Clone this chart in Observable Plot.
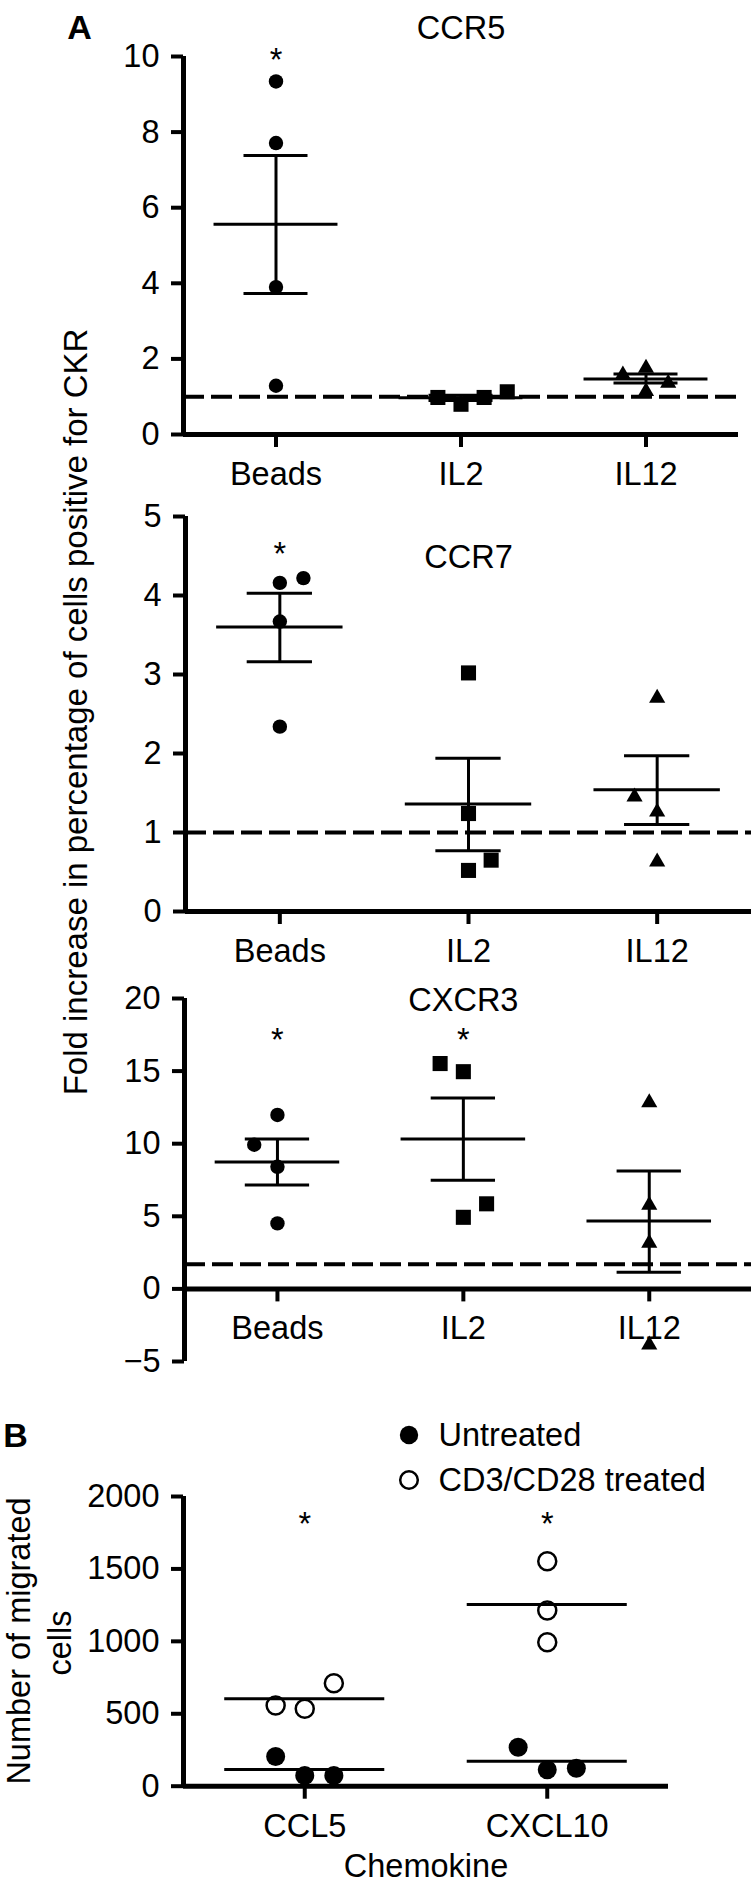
<!DOCTYPE html>
<html>
<head>
<meta charset="utf-8">
<script src="https://cdn.jsdelivr.net/npm/d3@7"></script>
<script src="https://cdn.jsdelivr.net/npm/@observablehq/plot@0.6"></script>
<style>
  body { margin: 0; background: #fff; }
  #root { position: relative; width: 751px; height: 1884px; overflow: hidden;
          font-family: "Liberation Sans", Arial, Helvetica, sans-serif; color: #000; background: #fff; }
  .lbl { position: absolute; transform: translate(-50%, -50%); white-space: nowrap; line-height: 1; font-size: 32.5px; }
  .bold { font-weight: bold; font-size: 34px; }
  .rot { transform: translate(-50%, -50%) rotate(-90deg); text-align: center; }
  .leg { position: absolute; transform: translateY(-50%); white-space: nowrap; line-height: 1; font-size: 32.5px; }
</style>
</head>
<body>
<div id="root"></div>
<script>
// ---------------- DATA ----------------
const groupsA = ["Beads", "IL2", "IL12"];
const symbolsA = ["circle", "square", "triangle"];

// CCR5
const ccr5Group  = [0, 0, 0, 0, 1, 1, 1, 1, 2, 2, 2, 2];
const ccr5Spread = [0, 0, 0, 0, -0.125, 0, 0.125, 0.25, -0.125, 0, 0, 0.12];
const ccr5Value  = [9.34, 7.71, 3.9, 1.29, 0.98, 0.8, 0.98, 1.13, 1.58, 1.76, 1.14, 1.36];
const ccr5Mean    = [5.56, 0.97, 1.47];
const ccr5SemLow  = [3.73, 0.9, 1.36];
const ccr5SemHigh = [7.38, 1.04, 1.6];
const ccr5StarGroups = [0];
const ccr5StarY = 9.9;
const ccr5Baseline = 1;
const ccr5Ticks = [0, 2, 4, 6, 8, 10];

// CCR7
const ccr7Group  = [0, 0, 0, 0, 1, 1, 1, 1, 2, 2, 2, 2];
const ccr7Spread = [0, 0.125, 0, 0, 0, 0, 0, 0.12, 0, -0.12, 0, 0];
const ccr7Value  = [4.16, 4.22, 3.67, 2.34, 3.02, 1.24, 0.52, 0.65, 2.7, 1.45, 1.26, 0.63];
const ccr7Mean    = [3.6, 1.36, 1.54];
const ccr7SemLow  = [3.16, 0.77, 1.1];
const ccr7SemHigh = [4.03, 1.94, 1.97];
const ccr7StarGroups = [0];
const ccr7StarY = 4.52;
const ccr7Baseline = 1;
const ccr7Ticks = [0, 1, 2, 3, 4, 5];

// CXCR3
const cxcr3Group  = [0, 0, 0, 0, 1, 1, 1, 1, 2, 2, 2, 2];
const cxcr3Spread = [0, -0.125, 0, 0, -0.125, 0, 0, 0.125, 0, 0, 0, 0];
const cxcr3Value  = [11.98, 9.93, 8.41, 4.51, 15.52, 14.96, 4.93, 5.86, 12.84, 5.78, 3.15, -3.86];
const cxcr3Mean    = [8.74, 10.32, 4.68];
const cxcr3SemLow  = [7.15, 7.48, 1.15];
const cxcr3SemHigh = [10.32, 13.14, 8.12];
const cxcr3StarGroups = [0, 1];
const cxcr3StarY = 17.13;
const cxcr3Baseline = 1.69;
const cxcr3Ticks = [-5, 0, 5, 10, 15, 20];

// Panel B
const chemokines = ["CCL5", "CXCL10"];
const untreatedGroup  = [0, 0, 0, 1, 1, 1];
const untreatedSpread = [-0.12, 0, 0.12, -0.12, 0, 0.12];
const untreatedValue  = [205, 74, 74, 269, 113, 124];
const treatedGroup  = [0, 0, 0, 1, 1, 1];
const treatedSpread = [-0.12, 0, 0.12, 0, 0, 0];
const treatedValue  = [557, 534, 711, 1553, 1213, 994];
const untreatedMean = [115, 173];
const treatedMean   = [603, 1254];
const bStarGroups = [0, 1];
const bStarY = 1805;
const bTicks = [0, 500, 1000, 1500, 2000];

// ---------------- RENDER ----------------
const root = document.getElementById("root");
const plotStyle = {
  fontFamily: "'Liberation Sans', Arial, Helvetica, sans-serif",
  fontSize: "32.5px",
  background: "transparent",
  overflow: "visible",
  color: "black"
};
const rA = [7.2, 8.5, 6];
const fmt = d3.format("d");

function place(svg, top) {
  svg.style.position = "absolute";
  svg.style.left = "0px";
  svg.style.top = top + "px";
  root.appendChild(svg);
}

function panelA(p) {
  const pts = p.value.map((v, i) => ({g: p.group[i], x: p.group[i] + p.spread[i], y: v}));
  const stats = p.mean.map((m, i) => ({x: i, m, lo: p.semLow[i], hi: p.semHigh[i]}));
  const stars = p.starGroups.map(g => ({x: g, y: p.starY}));
  const yOpts = p.yRange ? {domain: p.yDomain, range: p.yRange} : {domain: p.yDomain};
  return Plot.plot({
    width: 751,
    height: p.height,
    marginTop: p.marginTop,
    marginBottom: p.marginBottom,
    marginLeft: p.marginLeft,
    marginRight: p.marginRight,
    x: {domain: p.xDomain},
    y: yOpts,
    style: plotStyle,
    marks: [
      Plot.ruleY([p.baseline], {strokeWidth: 4, strokeDasharray: "21,7"}),
      Plot.ruleX(stats, {x: "x", y1: "lo", y2: "hi", strokeWidth: 3}),
      Plot.ruleY(stats, {y: "m", x1: d => d.x - 0.335, x2: d => d.x + 0.335, strokeWidth: 3}),
      Plot.ruleY(stats, {y: "lo", x1: d => d.x - 0.173, x2: d => d.x + 0.173, strokeWidth: 3}),
      Plot.ruleY(stats, {y: "hi", x1: d => d.x - 0.173, x2: d => d.x + 0.173, strokeWidth: 3}),
      ...[0, 1, 2].map(g => Plot.dot(pts.filter(d => d.g === g), {
        x: "x", y: "y", symbol: symbolsA[g], r: rA[g], fill: "black", stroke: "none"
      })),
      Plot.ruleX([p.xDomain[0]], {y1: p.yDomain[0], y2: p.yDomain[1], strokeWidth: 5}),
      Plot.ruleY([0], {strokeWidth: 5}),
      Plot.axisY({ticks: p.ticks, tickFormat: fmt, tickSize: 12, tickPadding: 12, strokeWidth: 4, label: null}),
      Plot.axisX({ticks: [0, 1, 2], tickFormat: i => groupsA[i], tickSize: 13, tickPadding: 14.5, strokeWidth: 4, label: null}),
      Plot.text(stars, {x: "x", y: "y", text: () => "*"}),
      Plot.text([p.title], {x: () => 1, frameAnchor: "top", lineAnchor: "middle", dy: p.titleDy, text: d => d})
    ]
  });
}

place(panelA({
  title: "CCR5", titleDy: -27.5,
  group: ccr5Group, spread: ccr5Spread, value: ccr5Value,
  mean: ccr5Mean, semLow: ccr5SemLow, semHigh: ccr5SemHigh,
  starGroups: ccr5StarGroups, starY: ccr5StarY, baseline: ccr5Baseline, ticks: ccr5Ticks,
  height: 500, marginTop: 56, marginBottom: 66, marginLeft: 183, marginRight: 13,
  xDomain: [-0.5, 2.5], yDomain: [0, 10]
}), 0);

place(panelA({
  title: "CCR7", titleDy: 40.7,
  group: ccr7Group, spread: ccr7Spread, value: ccr7Value,
  mean: ccr7Mean, semLow: ccr7SemLow, semHigh: ccr7SemHigh,
  starGroups: ccr7StarGroups, starY: ccr7StarY, baseline: ccr7Baseline, ticks: ccr7Ticks,
  height: 491, marginTop: 36, marginBottom: 60, marginLeft: 185, marginRight: 0,
  xDomain: [-0.5, 2.5], yDomain: [0, 5]
}), 480);

place(panelA({
  title: "CXCR3", titleDy: 2,
  group: cxcr3Group, spread: cxcr3Spread, value: cxcr3Value,
  mean: cxcr3Mean, semLow: cxcr3SemLow, semHigh: cxcr3SemHigh,
  starGroups: cxcr3StarGroups, starY: cxcr3StarY, baseline: cxcr3Baseline, ticks: cxcr3Ticks,
  height: 421, marginTop: 38, marginBottom: 92.6, marginLeft: 184, marginRight: 0,
  xDomain: [-0.5, 2.55], yDomain: [-5, 20], yRange: [401, 38]
}), 960);

// Panel B
const untreatedPts = untreatedValue.map((v, i) => ({x: untreatedGroup[i] + untreatedSpread[i], y: v}));
const treatedPts = treatedValue.map((v, i) => ({x: treatedGroup[i] + treatedSpread[i], y: v}));
const meansB = [
  ...untreatedMean.map((m, i) => ({x: i, m})),
  ...treatedMean.map((m, i) => ({x: i, m}))
];
const starsB = bStarGroups.map(g => ({x: g, y: bStarY}));

place(Plot.plot({
  width: 751,
  height: 484,
  marginTop: 96,
  marginBottom: 98.3,
  marginLeft: 183,
  marginRight: 83,
  x: {domain: [-0.5, 1.5]},
  y: {domain: [0, 2000]},
  style: plotStyle,
  marks: [
    Plot.ruleY(meansB, {y: "m", x1: d => d.x - 0.33, x2: d => d.x + 0.33, strokeWidth: 3}),
    Plot.dot(untreatedPts, {x: "x", y: "y", r: 9.5, fill: "black", stroke: "none"}),
    Plot.dot(treatedPts, {x: "x", y: "y", r: 9, fill: "none", stroke: "black", strokeWidth: 2.5}),
    Plot.ruleX([-0.5], {y1: 0, y2: 2000, strokeWidth: 5}),
    Plot.ruleY([0], {strokeWidth: 5}),
    Plot.axisY({ticks: bTicks, tickFormat: fmt, tickSize: 12, tickPadding: 12, strokeWidth: 4, label: null}),
    Plot.axisX({ticks: [0, 1], tickFormat: i => chemokines[i], tickSize: 13, tickPadding: 14.5, strokeWidth: 4, label: null}),
    Plot.text(starsB, {x: "x", y: "y", text: () => "*"}),
    Plot.text(["Chemokine"], {frameAnchor: "bottom", dy: 68, lineAnchor: "top", text: d => d})
  ]
}), 1400);

// ---------------- TEXT / LEGEND ----------------
function label(text, x, y, cls) {
  const d = document.createElement("div");
  d.className = "lbl " + (cls || "");
  d.style.left = x + "px";
  d.style.top = y + "px";
  d.textContent = text;
  root.appendChild(d);
  return d;
}
label("A", 79.5, 27, "bold");
label("B", 15.5, 1435, "bold");
const yA = label("Fold increase in percentage of cells positive for CKR", 75, 712, "rot");
yA.style.fontSize = "33px";
label("Number of migrated", 19, 1641, "rot");
label("cells", 60, 1643, "rot");

function legendRow(filled, text, y) {
  const ns = "http://www.w3.org/2000/svg";
  const s = document.createElementNS(ns, "svg");
  s.setAttribute("width", 24); s.setAttribute("height", 24);
  s.style.position = "absolute";
  s.style.left = (408.7 - 12) + "px";
  s.style.top = (y - 12) + "px";
  const c = document.createElementNS(ns, "circle");
  c.setAttribute("cx", 12); c.setAttribute("cy", 12);
  c.setAttribute("r", filled ? 9.2 : 8.8);
  c.setAttribute("fill", filled ? "black" : "none");
  c.setAttribute("stroke", filled ? "none" : "black");
  c.setAttribute("stroke-width", 2.5);
  s.appendChild(c);
  root.appendChild(s);
  const t = document.createElement("div");
  t.className = "leg";
  t.style.left = "438.5px";
  t.style.top = y + "px";
  t.textContent = text;
  root.appendChild(t);
}
legendRow(true, "Untreated", 1435);
legendRow(false, "CD3/CD28 treated", 1480);
</script>
</body>
</html>
